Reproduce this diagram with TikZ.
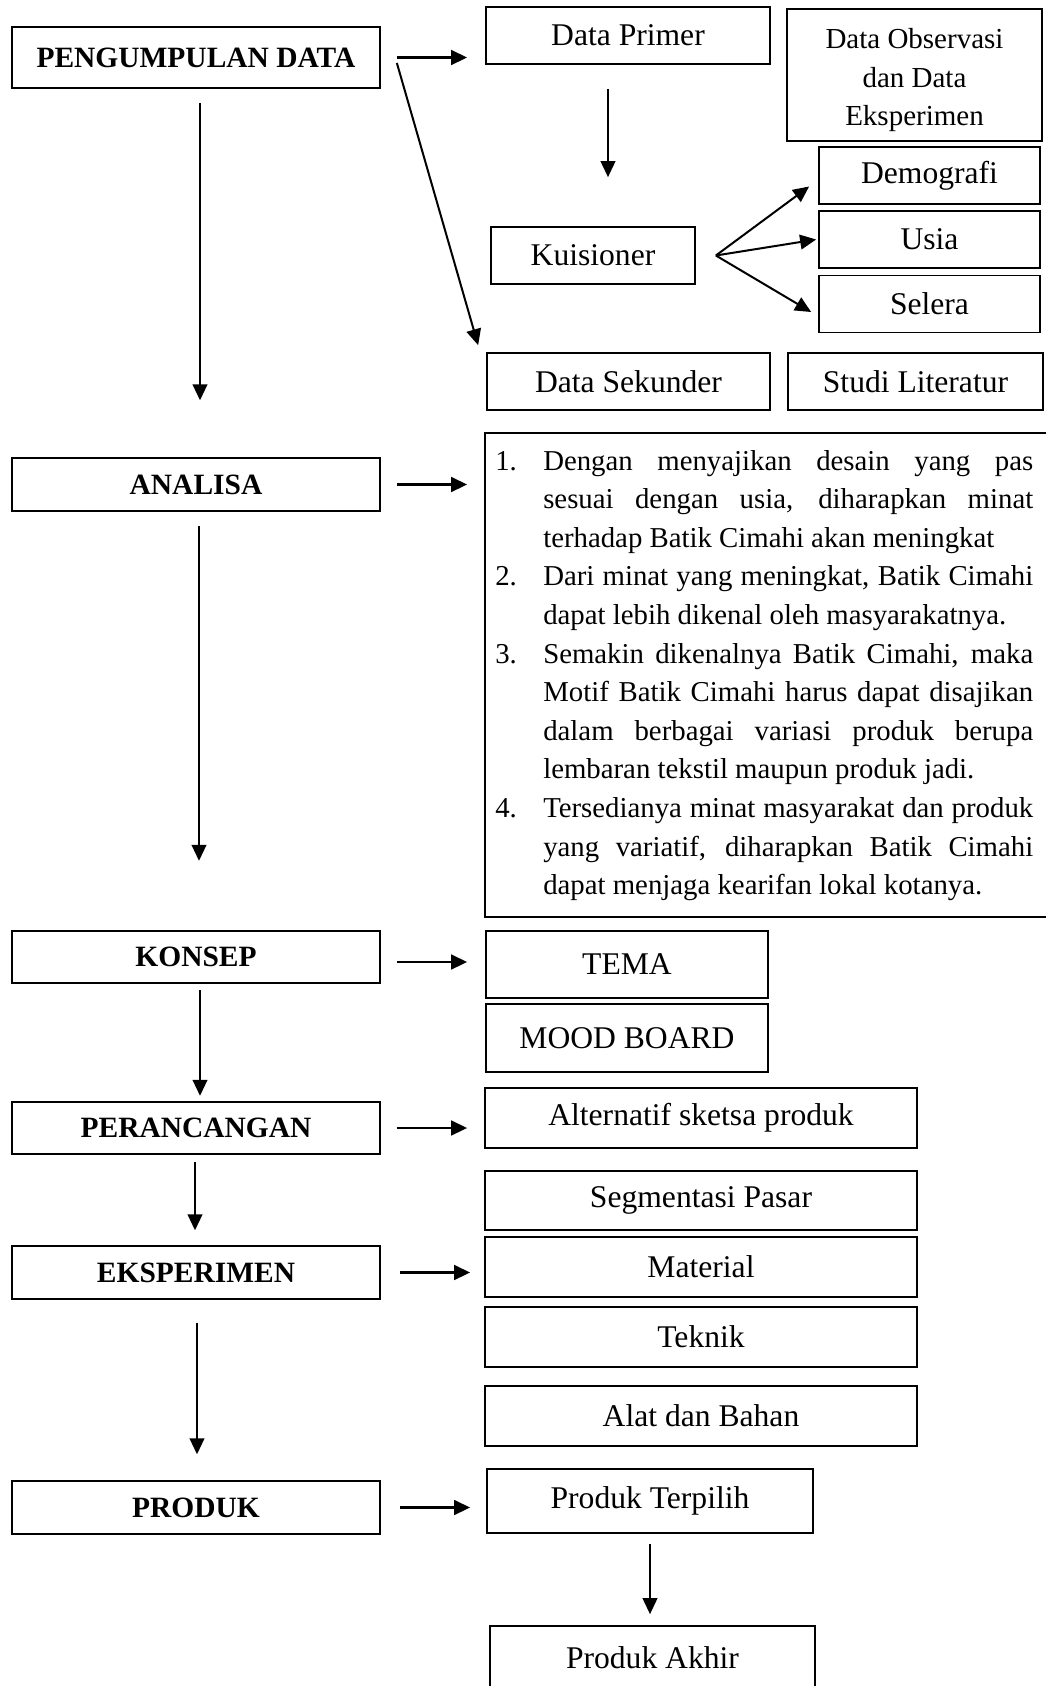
\documentclass[tikz,border=0pt]{standalone}
\usepackage{fontspec}
\setmainfont{Liberation Serif}
\usetikzlibrary{arrows.meta,calc}

\newcommand{\jline}[1]{\makebox[367.5pt][s]{#1}}
\newcommand{\nr}[1]{\makebox[36pt][l]{#1}}

\tikzset{
  stage/.style={draw, line width=1.3pt, inner sep=0pt, minimum width=276pt, minimum height=39.5pt,
    font=\fontsize{22.1}{26}\selectfont\bfseries},
  item/.style={draw, line width=1.3pt, inner sep=0pt, font=\fontsize{23.7}{29}\selectfont},
  wide/.style={item, minimum width=324pt, minimum height=44.5pt},
  arr/.style={-{Triangle[length=12pt,width=11pt]}, line width=1.5pt},
  harr/.style={-{Triangle[length=12pt,width=11pt]}, line width=1.9pt},
}

\begin{document}
\begin{tikzpicture}[x=0.75pt,y=-0.75pt]
\useasboundingbox (0,0) rectangle (1046,1686);

% stages
\node[stage, minimum height=45.75pt] (pd) at (196,57.5) {PENGUMPULAN DATA};
\node[stage] (an) at (196,484.5) {ANALISA};
\node[stage] (ko) at (196,957) {KONSEP};
\node[stage] (pe) at (196,1128) {PERANCANGAN};
\node[stage] (ek) at (196,1272.5) {EKSPERIMEN};
\node[stage] (pr) at (196,1507.5) {PRODUK};

% data collection
\node[item, minimum width=213pt, minimum height=42.75pt] (dp) at (628,35.5) {Data Primer};
\node[item, minimum width=191.25pt, minimum height=99pt] (do) at (914.5,75) {};
\node[align=center, inner sep=0pt, font=\fontsize{21.75}{29}\selectfont] (dotext)
  at ([yshift=-4pt]do.center) {Data Observasi\\dan Data\\Eksperimen};
\node[item, minimum width=153pt, minimum height=42.75pt] (ku) at (593,255.5) {Kuisioner};
\node[item, minimum width=165.75pt, minimum height=42.75pt] (dg) at (929.5,175.5) {Demografi};
\node[item, minimum width=165.75pt, minimum height=42.75pt] (us) at (929.5,239.5) {Usia};
\node[item, minimum width=165.75pt, minimum height=42.75pt] (se) at (929.5,304) {Selera};
\node[item, minimum width=212.25pt, minimum height=42.75pt] (ds) at (628.5,381.5) {Data Sekunder};
\node[item, minimum width=191.25pt, minimum height=42.75pt] (sl) at (915.5,381.5) {Studi Literatur};

% analysis list
\node[draw, line width=1.3pt, inner sep=0pt, minimum width=422.25pt, minimum height=363pt] (ls) at (766.5,675) {};
\node[anchor=base west, inner sep=0pt, font=\fontsize{21.6}{28.95}\selectfont] (lstext) at (495,470) {%
\begin{tabular}[t]{@{}l@{}}
\nr{1.}\jline{Dengan menyajikan desain yang pas}\\
\nr{}\jline{sesuai dengan usia, diharapkan minat}\\
\nr{}terhadap Batik Cimahi akan meningkat\\
\nr{2.}\jline{Dari minat yang meningkat, Batik Cimahi}\\
\nr{}dapat lebih dikenal oleh masyarakatnya.\\
\nr{3.}\jline{Semakin dikenalnya Batik Cimahi, maka}\\
\nr{}\jline{Motif Batik Cimahi harus dapat disajikan}\\
\nr{}\jline{dalam berbagai variasi produk berupa}\\
\nr{}lembaran tekstil maupun produk jadi.\\
\nr{4.}\jline{Tersedianya minat masyarakat dan produk}\\
\nr{}\jline{yang variatif, diharapkan Batik Cimahi}\\
\nr{}dapat menjaga kearifan lokal kotanya.
\end{tabular}};

% concept, design, experiment, product
\node[item, minimum width=211.5pt, minimum height=50.25pt] (te) at (627,964.5) {TEMA};
\node[item, minimum width=211.5pt, minimum height=51pt] (mb) at (627,1038) {MOOD BOARD};
\node[wide] (al) at (701,1118) {Alternatif sketsa produk};
\node[wide] (sg) at (701,1200.5) {Segmentasi Pasar};
\node[wide] (ma) at (701,1267) {Material};
\node[wide] (tk) at (701,1337) {Teknik};
\node[wide] (ab) at (701,1416) {Alat dan Bahan};
\node[item, minimum width=244.5pt, minimum height=48pt] (pt) at (650,1501) {Produk Terpilih};
\node[item, minimum width=243.75pt, minimum height=48pt] (pa) at (652.5,1658) {Produk Akhir};

% arrows
\draw[harr, shorten <=12pt, shorten >=13.5pt] (pd.east) -- (pd.east -| dp.west);
\draw[arr] ([shift={(16,5.5)}]pd.east) -- ([shift={(-8,-7)}]ds.north west);
\draw[arr, shorten <=10.5pt, shorten >=42.75pt] ([xshift=3pt]pd.south) -- ([xshift=3pt]an.north);
\draw[arr, shorten <=18pt, shorten >=36.75pt] ([xshift=-15pt]dp.south) -- ([xshift=-15pt]dp.south |- ku.north);

\coordinate (fan) at ([xshift=15pt]ku.east);
\draw[arr] (fan) -- ([shift={(-9,11)}]dg.west);
\draw[arr] (fan) -- ([shift={(-2,0)}]us.west);
\draw[arr] (fan) -- ([shift={(-7,8)}]se.west);

\draw[harr, shorten <=12pt, shorten >=12.75pt] (an.east) -- (an.east -| ls.west);
\draw[arr, shorten <=10.5pt, shorten >=51.75pt] ([xshift=2.25pt]an.south) -- ([xshift=2.25pt]ko.north);
\draw[harr, shorten <=12pt, shorten >=13.5pt] ([yshift=-3.75pt]ko.east) -- ([yshift=-3.75pt]ko.east -| te.west);
\draw[arr, shorten <=4.5pt, shorten >=3.75pt] ([xshift=3pt]ko.south) -- ([xshift=3pt]pe.north);
\draw[harr, shorten <=12pt, shorten >=12.75pt] (pe.east) -- (pe.east -| al.west);
\draw[arr, shorten <=5.25pt, shorten >=11.25pt] ([xshift=-0.75pt]pe.south) -- ([xshift=-0.75pt]ek.north);
\draw[harr, shorten <=14.25pt, shorten >=10.5pt] (ek.east) -- (ek.east -| ma.west);
\draw[arr, shorten <=17.25pt, shorten >=19.5pt] ([xshift=0.75pt]ek.south) -- ([xshift=0.75pt]pr.north);
\draw[harr, shorten <=14.25pt, shorten >=12pt] (pr.east) -- (pr.east -| pt.west);
\draw[arr, shorten <=7.5pt, shorten >=8.25pt] (pt.south) -- (pt.south |- pa.north);

\end{tikzpicture}
\end{document}
